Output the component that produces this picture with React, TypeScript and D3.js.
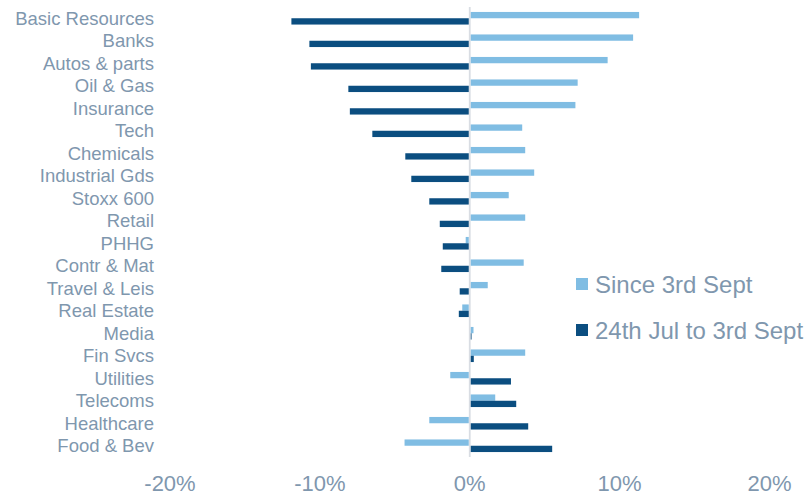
import React from "react";
import * as d3 from "d3";

// Sector performance, % change
const categories = [
  "Basic Resources", "Banks", "Autos & parts", "Oil & Gas", "Insurance",
  "Tech", "Chemicals", "Industrial Gds", "Stoxx 600", "Retail",
  "PHHG", "Contr & Mat", "Travel & Leis", "Real Estate", "Media",
  "Fin Svcs", "Utilities", "Telecoms", "Healthcare", "Food & Bev",
];
const sinceSept = [
  11.3, 10.9, 9.2, 7.2, 7.05,
  3.5, 3.7, 4.3, 2.6, 3.7,
  -0.27, 3.6, 1.2, -0.5, 0.25,
  3.7, -1.3, 1.7, -2.7, -4.35,
];
const julToSept = [
  -11.9, -10.7, -10.6, -8.1, -8.0,
  -6.5, -4.3, -3.9, -2.7, -2.0,
  -1.8, -1.9, -0.67, -0.73, 0.12,
  0.27, 2.75, 3.1, 3.9, 5.5,
];
const xTicks = [-20, -10, 0, 10, 20];
const seriesNames = ["Since 3rd Sept", "24th Jul to 3rd Sept"];

const W = 806;
const H = 496;
const LIGHT = "#80bde3";
const DARK = "#0b4e80";
const TEXT = "#7f97ae";
const FONT = "'Liberation Sans', Arial, sans-serif";

export default function App() {
  const x = d3.scaleLinear().domain([-20, 20]).range([170, 769.5]);
  const y = d3.scaleBand<string>().domain(categories).range([7, 457]);
  const bw = y.bandwidth();
  const barH = 6.3;

  const bar = (v: number) => {
    const x0 = x(0);
    const xv = x(v);
    return v >= 0
      ? { x: x0 + 1, w: Math.max(0, xv - x0 - 1) }
      : { x: xv, w: Math.max(0, x0 - 1 - xv) };
  };

  return (
    <svg width={W} height={H} style={{ position: "absolute", left: 0, top: 0, background: "#fff" }}>
      {/* zero line */}
      <line x1={x(0)} x2={x(0)} y1={7} y2={457} stroke="#d9dde3" strokeWidth={1.8} />
      {categories.map((c, i) => {
        const cy = (y(c) as number) + bw / 2;
        const a = bar(sinceSept[i]);
        const b = bar(julToSept[i]);
        return (
          <g key={c}>
            <rect x={a.x} y={cy - barH} width={a.w} height={barH} fill={LIGHT} />
            <rect x={b.x} y={cy} width={b.w} height={barH} fill={DARK} />
            <text
              x={154}
              y={cy}
              textAnchor="end"
              dominantBaseline="central"
              fontFamily={FONT}
              fontSize={18.5}
              fill={TEXT}
            >
              {c}
            </text>
          </g>
        );
      })}
      {xTicks.map((t) => (
        <text
          key={t}
          x={x(t)}
          y={491.3}
          textAnchor="middle"
          fontFamily={FONT}
          fontSize={22}
          fill={TEXT}
        >
          {`${t}%`}
        </text>
      ))}
      {/* legend */}
      {seriesNames.map((s, i) => {
        const cy = 284 + i * 46;
        return (
          <g key={s}>
            <rect x={576} y={cy - 6} width={12} height={12} fill={i === 0 ? LIGHT : DARK} />
            <text
              x={595}
              y={cy}
              dominantBaseline="central"
              fontFamily={FONT}
              fontSize={24}
              fill={TEXT}
            >
              {s}
            </text>
          </g>
        );
      })}
    </svg>
  );
}
